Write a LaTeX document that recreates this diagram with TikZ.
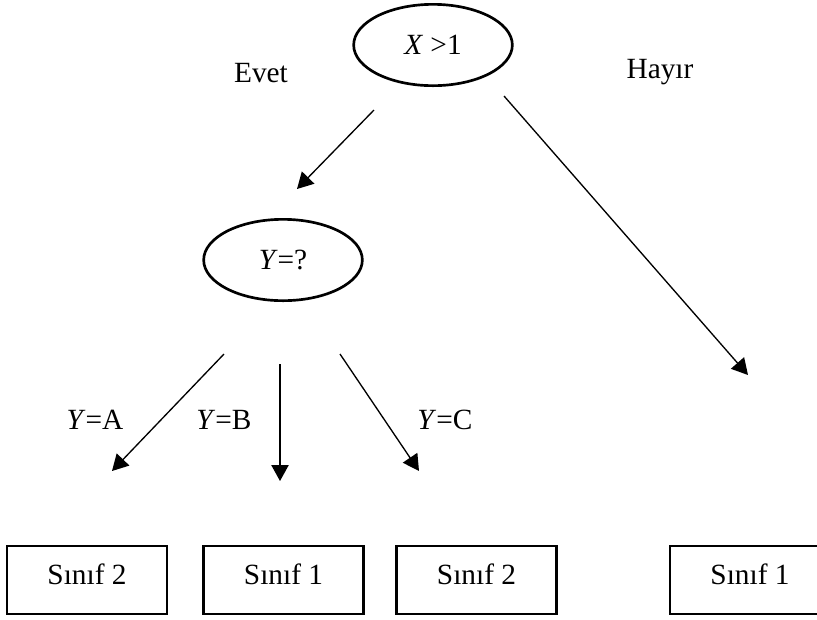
\documentclass[tikz,border=0pt]{standalone}
\usepackage{fontspec}
\setmainfont{Liberation Serif}
\usetikzlibrary{shapes.geometric,arrows.meta}
\begin{document}
\begin{tikzpicture}[
	x=0.375pt, y=-0.375pt,
	font=\fontsize{11}{13}\selectfont,
	test/.style={ellipse, draw, line width=1pt, minimum width=59.5pt, minimum height=30.5pt, inner sep=0pt},
	leaf/.style={rectangle, draw, line width=0.8pt, minimum width=60pt, minimum height=25.5pt, inner sep=0pt, text height=8pt, text depth=5pt},
	branch/.style={-{Triangle[length=6pt,width=6.5pt]}, line width=0.5pt},
	answer/.style={inner sep=0pt}
	]
	
	\useasboundingbox (0,0) rectangle (817,619);
	\clip (0,0) rectangle (817,619);
	
	% Decision nodes
	\node[test] (x) at (433,45) {\textit{X} >1};
	\node[test] (y) at (283,260) {\textit{Y}=?};
	
	% Leaves
	\node[leaf] (l1) at (87,580) {Sınıf 2};
	\node[leaf] (l2) at (283.5,580) {Sınıf 1};
	\node[leaf] (l3) at (476.5,580) {Sınıf 2};
	\node[leaf] (l4) at (750,580) {Sınıf 1};
	
	% Arrow ends
	\coordinate (xs1) at (374,110);
	\coordinate (xe1) at (297,189);
	\coordinate (xs2) at (504,96);
	\coordinate (xe2) at (748,375);
	\coordinate (ys1) at (224,354);
	\coordinate (ye1) at (112,471);
	\coordinate (ys2) at (280,364);
	\coordinate (ye2) at (280,481);
	\coordinate (ys3) at (340,354);
	\coordinate (ye3) at (419,471);
	
	% Branches
	\draw[branch] (xs1) -- (xe1);
	\draw[branch] (xs2) -- (xe2);
	\draw[branch] (ys1) -- (ye1);
	\draw[branch] (ys2) -- (ye2);
	\draw[branch] (ys3) -- (ye3);
	
	% Branch labels
	\node[answer] (evet) at (261,73) {Evet};
	\node[answer] (hayir) at (660,72) {Hayır};
	\node[answer] (ya) at (95,420) {\textit{Y}=A};
	\node[answer] (yb) at (224,420) {\textit{Y}=B};
	\node[answer] (yc) at (445,420) {\textit{Y}=C};
	
\end{tikzpicture}
\end{document}
